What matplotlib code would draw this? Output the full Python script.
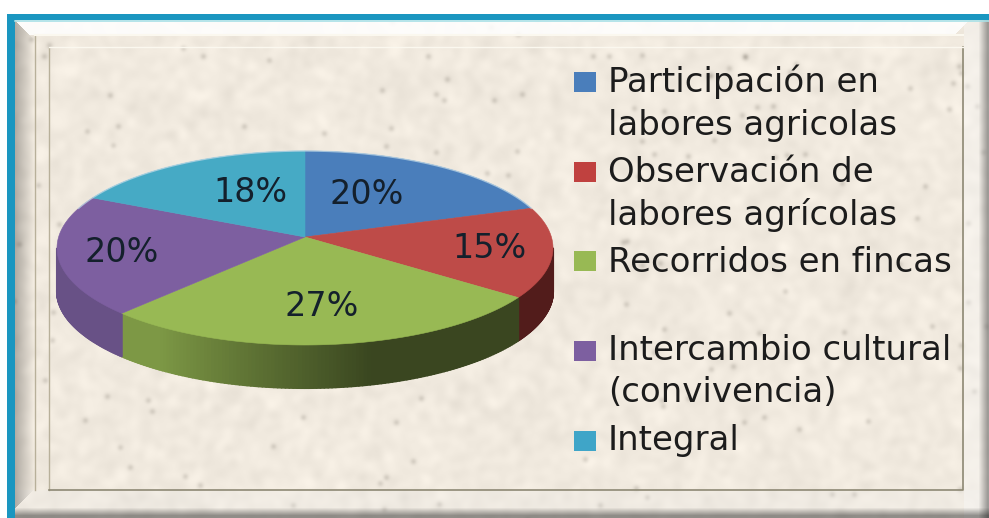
import numpy as np
import matplotlib
matplotlib.use("Agg")
import matplotlib.pyplot as plt
from matplotlib.patches import Polygon, Rectangle
from matplotlib.collections import PolyCollection

# chart data
categories = ["Participación en\nlabores agricolas", "Observación de\nlabores agrícolas",
              "Recorridos en fincas", "Intercambio cultural\n(convivencia)", "Integral"]
values = [20, 15, 27, 20, 18]
colors = ["#4a7ebb", "#be4b48", "#98b954", "#7d5fa0", "#46aac5"]
legend_colors = ["#4a7ebb", "#c0413f", "#98b954", "#7d5fa0", "#3fa5c8"]
side_colors = ["#4a7ebb", "#521c1b", "#98b954", "#7a5f9e", "#46aac5"]

W, H = 989, 518
plt.rcParams['font.family'] = ['DejaVu Sans']

# pie geometry, in pixels
cx, cy = 305, 248      # centre of the ellipse
rx, ry = 248, 97
apex_off = 11 / ry     # the tilt moves the apex up from the ellipse centre
depth = 43


def ellipse_param(theta):
    # ray from the apex to the rim, gives the ellipse angle for a true pie angle
    dx, dy = np.sin(theta), np.cos(theta)
    b = apex_off * dy
    t = -b + np.sqrt(b * b + 1 - apex_off ** 2)
    return np.arctan2(dx * t, apex_off + dy * t) % (2 * np.pi)


def rim(t):
    return cx + rx * np.sin(t), cy - ry * np.cos(t)


def make_background():
    # paper texture: blurred noise plus a few darker flecks, then the bevel
    rng = np.random.default_rng(7)
    fx = np.fft.fftfreq(W)[None, :]
    fy = np.fft.fftfreq(H)[:, None]
    noise = np.fft.ifft2(np.fft.fft2(rng.normal(size=(H, W))) * np.exp(-(fx ** 2 + fy ** 2) * 2 * (np.pi * 4) ** 2)).real
    noise = noise / noise.std()
    flecks = np.fft.ifft2(np.fft.fft2((rng.random((H, W)) > 0.9997) * 1.0) * np.exp(-(fx ** 2 + fy ** 2) * 2 * (np.pi * 2.2) ** 2)).real
    flecks = np.clip(flecks / flecks.max(), 0, 1)
    img = np.ones((H, W, 3)) * np.array([241, 234, 223]) / 255
    img = img + noise[..., None] * 0.01 - flecks[..., None] * 0.2

    yy, xx = np.mgrid[0:H, 0:W]
    # top band white, bottom band pale, left and right bands grey to light
    top = (yy < 35) & (xx > yy - 6) & (xx < W - yy)
    img[top] = img[top] * 0.15 + 0.85
    bottom = yy >= 490
    img[bottom] = img[bottom] * 0.75 + 0.23
    left = (xx < 35) & (yy >= xx + 6) & (yy < H - xx + 5)
    shade = np.clip((xx - 14) / 21, 0, 1)[..., None]
    img = np.where(left[..., None], img * (0.72 + 0.3 * shade), img)
    right = xx >= 964
    img[right] = img[right] * 0.6 + 0.39
    edge = np.clip((xx - 978) / 9, 0, 1)[..., None] * 0.35
    img = img * (1 - edge)
    edge = np.clip((yy - 507) / 8, 0, 1)[..., None] * 0.4
    img = img * (1 - edge)
    return np.clip(img, 0, 1)


fig = plt.figure(figsize=(W / 100, H / 100), dpi=100, facecolor="white")
ax = fig.add_axes([0, 0, 1, 1])
ax.axis("off")

ax.imshow(make_background(), extent=(0, W, H, 0), aspect="auto", zorder=0, interpolation="bilinear")
ax.set_xlim(0, W)
ax.set_ylim(H, 0)

# white margin and blue border on the top and left
ax.add_patch(Rectangle((0, 0), W, 14, fc="white", ec="none", zorder=1))
ax.add_patch(Rectangle((0, 0), 7, H, fc="white", ec="none", zorder=1))
ax.add_patch(Rectangle((7, 14), W - 7, 6, fc="#1a96c0", ec="none", zorder=2))
ax.add_patch(Polygon([(7, 14), (15, 20), (15, H), (7, H)], fc="#1a96c0", ec="none", zorder=2))
ax.plot([15, W], [21, 21], color="#a8e0e6", lw=1.2, zorder=2)

# inner frame lines
ax.plot([35, 35], [35, 490], color="#b8b09a", lw=1, zorder=2)
ax.plot([49, 49], [47, 490], color="#b8b09a", lw=1, zorder=2)
ax.plot([49, 963, 963], [490, 490, 47], color="#8d8874", lw=1.2, zorder=2)
ax.plot([35, 963], [35, 35], color="#fbf8ef", lw=1.5, zorder=2)
ax.plot([49, 963], [47, 47], color="#fbf8ef", lw=1, zorder=2)

# slices
cum = np.cumsum([0] + values) / sum(values) * 2 * np.pi
bounds = ellipse_param(cum[:-1])
bounds = np.append(bounds, 2 * np.pi)
apex = (cx, cy - apex_off * ry)

# rim wall, only the front half can be seen
for i, col in enumerate(side_colors):
    t = np.linspace(bounds[i], bounds[i + 1], 120)
    t = t[(t >= np.pi / 2) & (t <= 3 * np.pi / 2)]
    if len(t) < 2:
        continue
    polys, cols = [], []
    base = np.array(matplotlib.colors.to_rgb(col))
    for a, b in zip(t[:-1], t[1:]):
        xa, ya = rim(a)
        xb, yb = rim(b)
        polys.append([(xa, ya), (xb, yb), (xb, yb + depth), (xa, ya + depth)])
        # dark on the right, lit towards the left of the wall
        s = np.clip((1.5 * np.pi - (a + b) / 2) / np.pi, 0, 1)
        if i == 2:
            k = max(0.82 - 0.62 * (s - 0.3) / 0.4, 0.38) if s > 0.3 else 0.82
        elif i == 3:
            k = 0.85
        else:
            k = 1.0
        cols.append(np.clip(base * k, 0, 1))
    ax.add_collection(PolyCollection(polys, facecolors=cols, edgecolors=cols, linewidths=1.5, zorder=3))

for i, col in enumerate(colors):
    t = np.linspace(bounds[i], bounds[i + 1], 200)
    x, y = rim(t)
    ax.add_patch(Polygon(np.column_stack([np.r_[apex[0], x], np.r_[apex[1], y]]),
                         fc=col, ec=col, lw=0.4, zorder=4))

# pale light catch on the back rim
t = np.linspace(-1.15, 1.15, 200)
x, y = rim(t)
ax.plot(x, y, color="#bfd8e6", lw=1, alpha=0.7, zorder=5)

# percent labels
label_pos = [(367, 194), (490, 249), (322, 306), (122, 252), (250, 193)]
for v, (lx, ly) in zip(values, label_pos):
    ax.text(lx, ly, f"{v}%", ha="center", va="center", fontsize=24, color="#14202c", zorder=6)

# legend
legend_swatch_y = [82, 171.5, 260.5, 351, 441]
legend_baselines = [92, 182, 272, 360, 450]
line_step = 42.5
for name, col, sy, base in zip(categories, legend_colors, legend_swatch_y, legend_baselines):
    ax.add_patch(Rectangle((574, sy - 10), 22, 20, fc=col, ec="none", zorder=6))
    for j, line in enumerate(name.split("\n")):
        ax.text(608, base + j * line_step, line, ha="left", va="baseline", fontsize=24.5,
                color="#1c1c1c", zorder=6)

fig.savefig("out.png", dpi=100)
